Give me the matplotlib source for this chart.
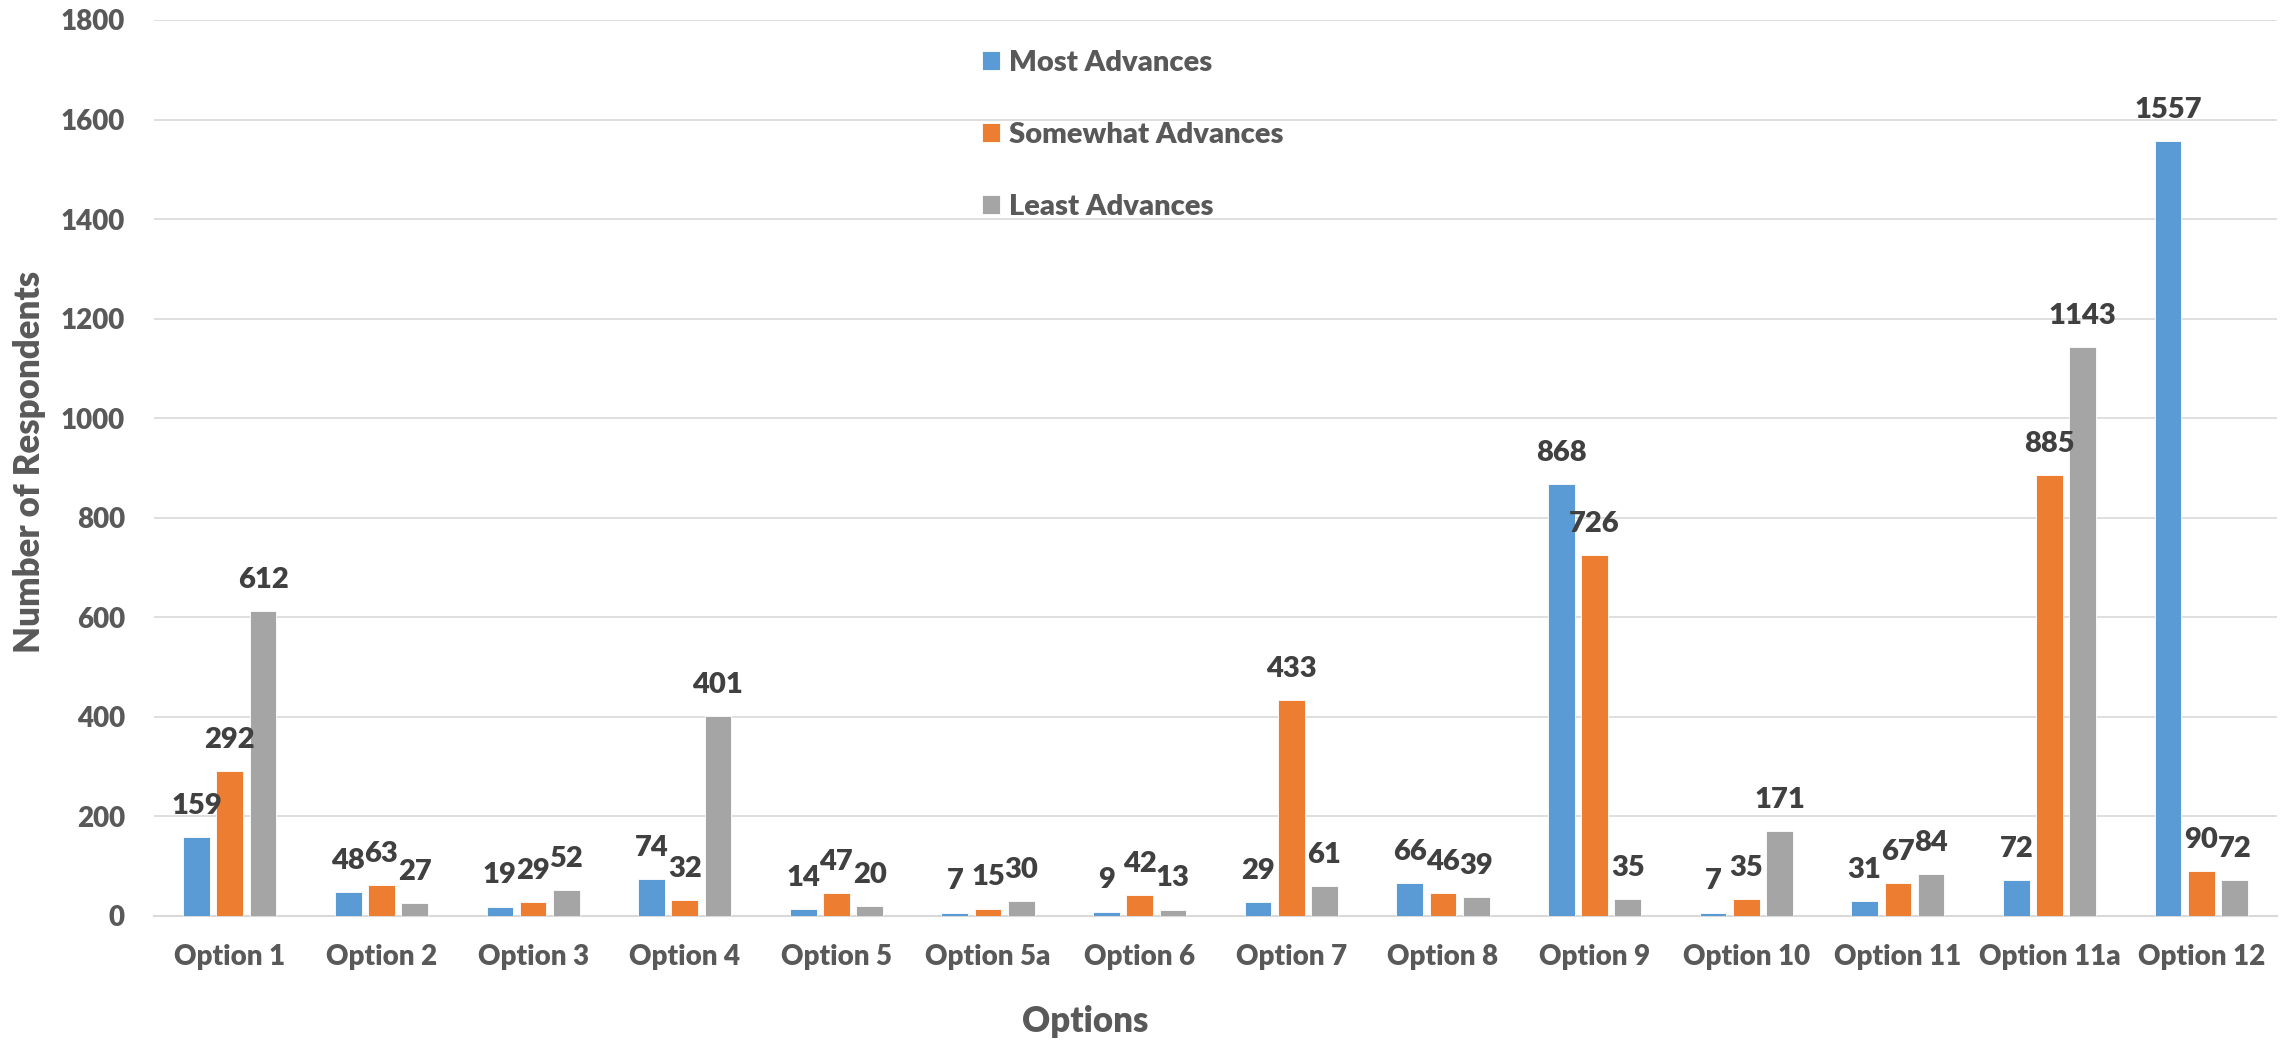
import matplotlib
matplotlib.use("Agg")
import matplotlib.pyplot as plt
import numpy as np

categories = ["Option 1", "Option 2", "Option 3", "Option 4", "Option 5", "Option 5a",
              "Option 6", "Option 7", "Option 8", "Option 9", "Option 10", "Option 11",
              "Option 11a", "Option 12"]
most_advances = [159, 48, 19, 74, 14, 7, 9, 29, 66, 868, 7, 31, 72, 1557]
somewhat_advances = [292, 63, 29, 32, 47, 15, 42, 433, 46, 726, 35, 67, 885, 90]
least_advances = [612, 27, 52, 401, 20, 30, 13, 61, 39, 35, 171, 84, 1143, 72]
series_names = ["Most Advances", "Somewhat Advances", "Least Advances"]
y_ticks = [0, 200, 400, 600, 800, 1000, 1200, 1400, 1600, 1800]

colors = ["#5B9BD5", "#ED7D31", "#A5A5A5"]
FONT = "Lato"
WEIGHT = "heavy"
TICK_C = "#595959"
LABEL_C = "#404040"

W, H = 2290, 1040
fig = plt.figure(figsize=(W / 100, H / 100), dpi=100)
ax = fig.add_axes([154 / W, 1 - 916 / H, (2277 - 154) / W, (916 - 20) / H])

x = np.arange(len(categories))
width = 0.176
step = 0.219
series = [most_advances, somewhat_advances, least_advances]
for i, (vals, name, c) in enumerate(zip(series, series_names, colors)):
    pos = x + (i - 1) * step
    bars = ax.bar(pos, vals, width, color=c, label=name, edgecolor="white",
                  linewidth=0.6, zorder=3)
    for b, v in zip(bars, vals):
        ax.annotate(str(v), (b.get_x() + b.get_width() / 2, v),
                    xytext=(0, 13), textcoords="offset points",
                    ha="center", va="bottom", fontsize=21, fontweight=WEIGHT,
                    color=LABEL_C, family=FONT, zorder=4)

ax.set_xlim(-0.5, len(categories) - 0.5)
ax.set_ylim(0, 1800)
ax.set_yticks(y_ticks)
ax.set_xticks(x)
ax.set_xticklabels(categories)
ax.grid(axis="y", color="#D9D9D9", linewidth=1.2, zorder=0)
ax.set_axisbelow(True)
for s in ["top", "right", "left"]:
    ax.spines[s].set_visible(False)
ax.spines["bottom"].set_color("#D9D9D9")
ax.spines["bottom"].set_linewidth(1.5)
ax.tick_params(axis="both", length=0, labelsize=20, labelcolor=TICK_C)
ax.tick_params(axis="y", pad=21)
ax.tick_params(axis="x", pad=20)
for lab in ax.get_xticklabels() + ax.get_yticklabels():
    lab.set_fontweight(WEIGHT)
    lab.set_family(FONT)

ax.set_xlabel("Options", fontsize=25, fontweight=WEIGHT, color=TICK_C, family=FONT)
ax.set_ylabel("Number of Respondents", fontsize=25, fontweight=WEIGHT, color=TICK_C, family=FONT)
ax.xaxis.set_label_coords(1085 / W, 1 - 1022 / H, transform=fig.transFigure)
ax.yaxis.set_label_coords(30 / W, 1 - 462 / H, transform=fig.transFigure)
ax.xaxis.label.set_va("center")
ax.yaxis.label.set_va("center")

leg = ax.legend(loc="upper left", bbox_to_anchor=(982 / W, 1 - 50 / H),
                bbox_transform=fig.transFigure, frameon=False,
                prop={"family": FONT, "weight": WEIGHT, "size": 21},
                labelcolor=TICK_C, handlelength=0.62, handleheight=0.62,
                handletextpad=0.31, labelspacing=1.58, borderpad=0, borderaxespad=0)

fig.savefig("out.png", dpi=100, facecolor="white")
